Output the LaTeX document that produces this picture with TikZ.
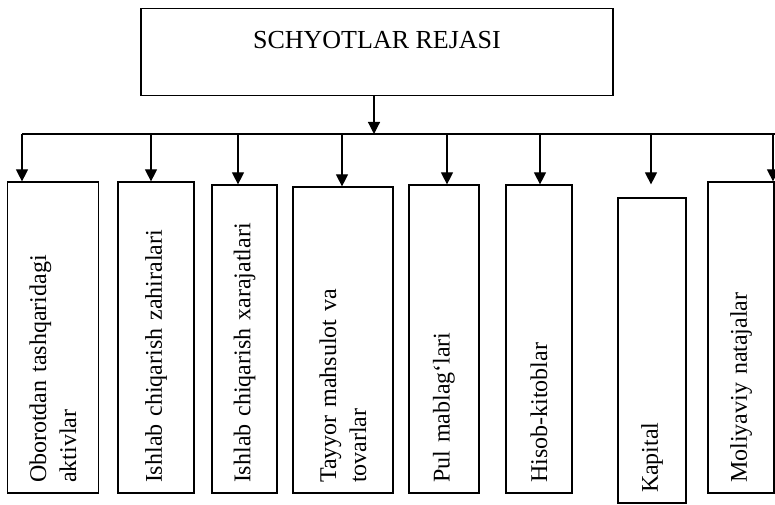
\documentclass[tikz,border=0pt]{standalone}
\usepackage{fontspec}
\setmainfont{Liberation Serif}
\usetikzlibrary{arrows.meta,positioning,calc}

\begin{document}
\begin{tikzpicture}[x=1pt, y=1pt,
    plan/.style={draw, line width=1.2pt, minimum width=472pt, inner ysep=10pt,
        text height=30pt, text depth=37pt, font=\fontsize{26}{31}\selectfont},
    acc/.style={draw, line width=1.2pt, rotate=90, inner xsep=10pt, inner ysep=0pt,
        align=left, font=\fontsize{24}{30}\selectfont},
    arr/.style={line width=1.2pt, -{Triangle[length=12pt, width=12pt]}}]
    \useasboundingbox (0,0) rectangle (775,505);

    % Main box and bus
    \node[plan] (rej) at (377,453) {SCHYOTLAR REJASI};
    \coordinate (bus) at (374,371);
    \coordinate (busL) at (22,371);
    \coordinate (busR) at (780,371);
    \draw[arr] (rej.south -| bus) -- (bus);
    \draw[line width=1.2pt] (busL) -- (busR);

    % Account groups
    \node[acc, text width=291pt, minimum height=91.5pt] (b1) at (53,167.5) {Oborotdan tashqaridagi\\aktivlar};
    \node[acc, text width=291pt, minimum height=76pt] (b2) at (156,167.5) {Ishlab chiqarish zahiralari};
    \node[acc, text width=288pt, minimum height=65pt] (b3) at (244.5,166) {Ishlab chiqarish xarajatlari};
    \node[acc, text width=286pt, minimum height=100pt] (b4) at (343,165) {Tayyor mahsulot va\\tovarlar};
    \node[acc, text width=288pt, minimum height=70pt] (b5) at (444,166) {Pul mablag‘lari};
    \node[acc, text width=288pt, minimum height=66pt] (b6) at (539,166) {Hisob-kitoblar};
    \node[acc, text width=285pt, minimum height=68pt] (b7) at (652,154.5) {Kapital};
    \node[acc, text width=291pt, minimum height=66pt] (b8) at (741,167.5) {Moliyaviy natajalar};

    % Arrows from the bus
    \foreach \b/\x in {b1/22, b2/151, b3/238, b4/342, b5/447, b6/540, b8/773} {
        \coordinate (t\b) at (\x,371);
        \draw[arr] (t\b) -- (t\b |- \b.east);
    }
    \coordinate (tb7) at (651,371);
    \draw[arr] (tb7) -- ($(tb7 |- b7.east)+(0,13)$);
\end{tikzpicture}
\end{document}
